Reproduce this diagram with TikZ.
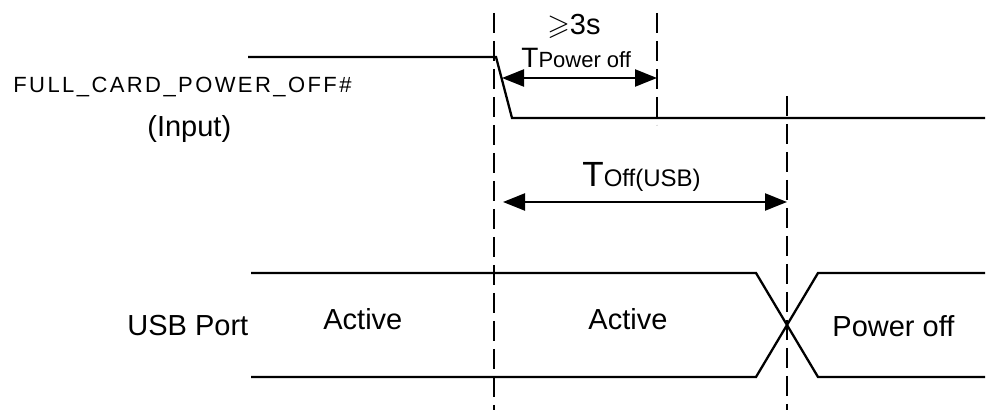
\documentclass[tikz,border=0pt]{standalone}
\usepackage{amssymb}
\usepackage{fontspec}
\setmainfont{Liberation Sans}
\usepackage{tikz}
\usetikzlibrary{arrows.meta}

\tikzset{
  sig/.style={line width=1.15pt},
  guide/.style={line width=1.1pt,dash pattern=on 10pt off 4pt},
  span/.style={line width=1.15pt,{Triangle[length=11pt,width=8.5pt]}-{Triangle[length=11pt,width=8.5pt]}},
  lbl/.style={inner sep=0pt,anchor=base west,font=\fontsize{14.5}{16}\selectfont}
}

\begin{document}
\begin{tikzpicture}[x=0.5pt,y=-0.5pt]
  \useasboundingbox (0,0) rectangle (995,410);

  \coordinate (m1) at (494,13);  \coordinate (m1b) at (494,410);
  \coordinate (m2) at (657,13);  \coordinate (m2b) at (657,125);
  \coordinate (m3) at (787,96);  \coordinate (m3b) at (787,410);
  \draw[guide] (m1) -- (m1b);
  \draw[guide] (m2) -- (m2b);
  \draw[guide] (m3) -- (m3b);

  \draw[sig] (248,57) -- (496,57) -- (512,118) -- (985,118);

  \draw[sig] (251,273) -- (756,273) -- (818,377) -- (985,377);
  \draw[sig] (251,377) -- (756,377) -- (818,273) -- (985,273);

  \coordinate (p1) at (502,78);  \coordinate (p2) at (657,78);
  \draw[span] (p1) -- (p2);
  \coordinate (u1) at (503,202); \coordinate (u2) at (787,202);
  \draw[span] (u1) -- (u2);

  \node[lbl,font=\fontsize{11}{12}\selectfont\addfontfeature{LetterSpace=11}] (sig) at (13,93) {FULL\_CARD\_POWER\_OFF\#};
  \node[lbl] (inp) at (147,137) {(Input)};
  \node[lbl] (usb) at (127,336) {USB Port};
  \node[lbl] (act1) at (323,330) {Active};
  \node[lbl] (act2) at (588,330) {Active};
  \node[lbl] (poff) at (832,337) {Power off};
  \node[lbl] (min) at (547,35) {$\geqslant$3s};
  \node[lbl] (tpo) at (521,68) {{\fontsize{14}{16}\selectfont T}{\fontsize{11}{12}\selectfont Power off}};
  \node[lbl] (tusb) at (582,187) {{\fontsize{17.5}{20}\selectfont T}{\fontsize{12}{14}\selectfont Off(USB)}};
\end{tikzpicture}
\end{document}
